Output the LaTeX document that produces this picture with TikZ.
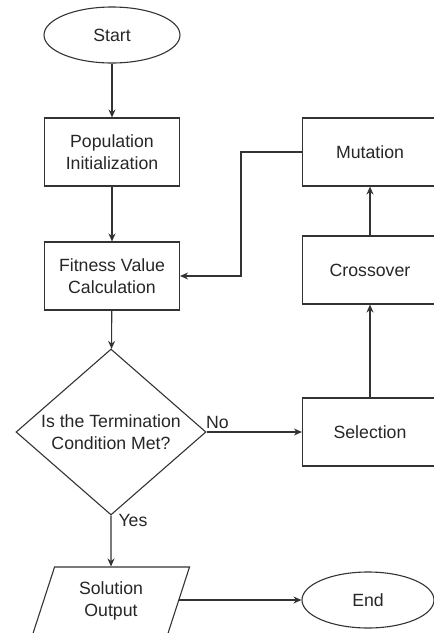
\documentclass[tikz,border=0pt]{standalone}
\usepackage{fontspec}
\setmainfont{Liberation Sans}
\usetikzlibrary{shapes.geometric}
\usetikzlibrary{arrows.meta}

\begin{document}
\begin{tikzpicture}[x=1pt, y=-1pt,
	line width=1.1pt, draw=black!80, text=black!85,
	every node/.style={font=\fontsize{17.7}{22}\selectfont, align=center},
	>={Stealth[length=8pt, width=7pt]},
	terminal/.style={draw, ellipse, minimum width=136pt, minimum height=56pt, inner sep=0pt},
	process/.style={draw, rectangle, minimum width=135pt, minimum height=68pt, inner sep=0pt},
	decision/.style={draw, diamond, aspect=1.15, minimum width=190pt, minimum height=166pt, inner sep=0pt},
	io/.style={draw, trapezium, trapezium left angle=72, trapezium right angle=108, minimum width=135pt, minimum height=68pt, inner sep=0pt},
	edgelabel/.style={font=\fontsize{17.7}{22}\selectfont, inner sep=1pt}]
	\useasboundingbox (0,0) rectangle (434,633);
	\clip (0,0) rectangle (434,633);
	
	\node[terminal] (start) at (112,35) {Start};
	\node[process] (init) at (112,152) {Population\\Initialization};
	\node[process] (fitness) at (112,276) {Fitness Value\\Calculation};
	\node[decision] (cond) at (111,432) {Is the Termination\\Condition Met?};
	\node[io] (output) at (111,601) {Solution\\Output};
	\node[terminal, minimum width=132pt] (end) at (368,600) {End};
	
	\node[process] (mutation) at (370,152) {Mutation};
	\node[process] (crossover) at (370,270) {Crossover};
	\node[process] (selection) at (370,432) {Selection};
	\coordinate (bend) at (241,152);
	
	\draw[->] (start) -- (init);
	\draw[->] (init) -- (fitness);
	\draw[->] (fitness) -- (cond);
	\draw[->] (cond.east) -- node[edgelabel, pos=0, anchor=south west, xshift=-2pt, yshift=2pt] {No} (selection.west);
	\draw[->] (selection) -- (crossover);
	\draw[->] (crossover) -- (mutation);
	\draw[->] (mutation.west) -- (bend) |- (fitness.east);
	\draw[->] (cond.south) -- node[edgelabel, pos=0.1, anchor=west, xshift=6pt] {Yes} (output.north);
	\draw[->] (output.east |- end.west) -- (end.west);
\end{tikzpicture}
\end{document}
